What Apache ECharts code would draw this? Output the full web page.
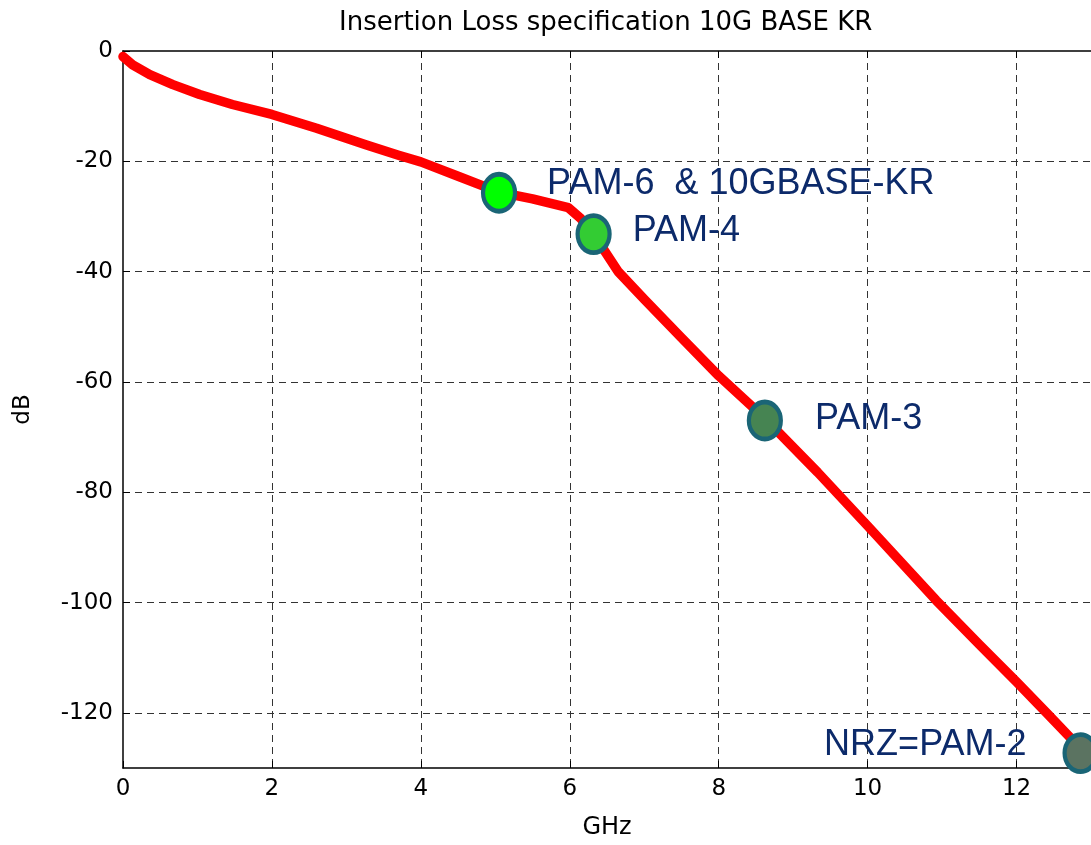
<!DOCTYPE html>
<html>
<head>
<meta charset="utf-8">
<title>Insertion Loss specification 10G BASE KR</title>
<script src="https://cdn.jsdelivr.net/npm/echarts@6/dist/echarts.min.js"></script>
<style>
    html, body { margin: 0; padding: 0; background: #fff; }
    #linechart { width: 1091px; height: 845px; }
</style>
</head>
<body>
<div id="linechart"></div>
<script>
// insertion loss curve (GHz, dB)
var curveFreq = [0, 0.13, 0.36, 0.67, 1.03, 1.47, 2.0, 2.6, 3.26, 3.7, 4.0, 4.5, 5.05, 5.5, 5.98, 6.15, 6.32, 6.65, 7.0, 7.5, 8.0, 8.62, 9.33, 10.0, 10.92, 11.5, 12.0, 12.41, 12.8];
var curveLoss = [-1.0, -2.5, -4.3, -6.1, -7.9, -9.7, -11.5, -14.0, -17.0, -18.9, -20.1, -22.7, -25.6, -26.8, -28.4, -30.4, -33.2, -40.0, -45.0, -52.0, -58.9, -66.6, -76.4, -86.1, -99.6, -107.6, -114.4, -120.1, -125.6];

// modulation points
var markerNames = ['PAM-6  & 10GBASE-KR', 'PAM-4', 'PAM-3', 'NRZ=PAM-2'];
var markerFreq = [5.05, 6.32, 8.62, 12.86];
var markerLoss = [-25.7, -33.2, -67.0, -127.3];

var xTicks = [0, 2, 4, 6, 8, 10, 12];
var yTicks = [0, -20, -40, -60, -80, -100, -120];

(function() {
    var myChart = echarts.init(document.getElementById('linechart'));

    var markerFill = ['#00ff00', '#33cc33', '#468452', '#5b7361'];
    var labelPos = ['right', 'right', 'right', 'left'];
    var labelDist = [30, 21, 32, 36];
    var labelDy = [-9, -3, -1, -8];

    var line = [];
    for (var i = 0; i < curveFreq.length; i++) {
        line.push([curveFreq[i], curveLoss[i]]);
    }

    var points = [];
    for (var j = 0; j < markerNames.length; j++) {
        points.push({
            name: markerNames[j],
            value: [markerFreq[j], markerLoss[j]],
            itemStyle: { color: markerFill[j] },
            label: {
                position: labelPos[j],
                distance: labelDist[j],
                offset: [0, labelDy[j]]
            }
        });
    }

    var tickFont = { fontFamily: 'DejaVu Sans', fontSize: 23, color: '#000' };

    var option = {
        animation: false,
        backgroundColor: '#fff',
        title: {
            text: 'Insertion Loss specification 10G BASE KR',
            left: 334,
            top: 5,
            textStyle: { fontFamily: 'DejaVu Sans', fontSize: 26, fontWeight: 'normal', color: '#000' }
        },
        grid: { left: 123, top: 51, width: 971, height: 722, show: false },
        xAxis: [{
            type: 'value',
            min: 0,
            max: 13,
            interval: 2,
            name: 'GHz',
            nameLocation: 'middle',
            nameGap: 48,
            nameTextStyle: { fontFamily: 'DejaVu Sans', fontSize: 24, color: '#000' },
            axisLine: { show: true, onZero: false, lineStyle: { color: '#000', width: 1.5 } },
            axisTick: { inside: true, length: 7, lineStyle: { color: '#000' } },
            axisLabel: Object.assign({ margin: 10, showMaxLabel: false,
                formatter: function(v) { return xTicks.indexOf(v) >= 0 ? String(v) : ''; } }, tickFont),
            splitLine: { show: true, showMinLine: false, showMaxLine: false,
                lineStyle: { color: '#333', width: 1, type: [7, 5] } }
        }, {
            type: 'value',
            position: 'top',
            min: 0,
            max: 13,
            interval: 2,
            axisLine: { show: true, onZero: false, lineStyle: { color: '#000', width: 1.5 } },
            axisTick: { inside: true, length: 7, lineStyle: { color: '#000' } },
            axisLabel: { show: false },
            splitLine: { show: false }
        }],
        yAxis: {
            type: 'value',
            min: -130,
            max: 0,
            splitNumber: 6,
            minInterval: 20,
            maxInterval: 20,
            name: 'dB',
            nameLocation: 'middle',
            nameGap: 88,
            nameTextStyle: { fontFamily: 'DejaVu Sans', fontSize: 23, color: '#000' },
            axisLine: { show: true, onZero: false, lineStyle: { color: '#000', width: 1.5 } },
            axisTick: { show: true, inside: true, length: 7, lineStyle: { color: '#000' } },
            axisLabel: Object.assign({ margin: 10, showMinLabel: false,
                formatter: function(v) { return yTicks.indexOf(v) >= 0 ? String(v) : ''; } }, tickFont),
            splitLine: { show: true, showMinLine: false, showMaxLine: false,
                lineStyle: { color: '#333', width: 1, type: [7, 5] } }
        },
        series: [{
            name: 'loss',
            type: 'line',
            showSymbol: false,
            symbol: 'none',
            z: 2,
            lineStyle: { color: '#ff0000', width: 9.5, cap: 'round', join: 'round' },
            data: line
        }, {
            name: 'points',
            type: 'scatter',
            z: 3,
            symbol: 'path://M0,10A10,10 0 1,1 20,10A10,10 0 1,1 0,10Z',
            symbolSize: [32, 37],
            itemStyle: { borderColor: '#1a6576', borderWidth: 4.5, opacity: 1 },
            label: {
                show: true,
                formatter: '{b}',
                fontFamily: 'Liberation Sans',
                fontSize: 36,
                color: '#0c2a6a'
            },
            data: points
        }]
    };
    myChart.setOption(option);
})();
</script>
</body>
</html>
